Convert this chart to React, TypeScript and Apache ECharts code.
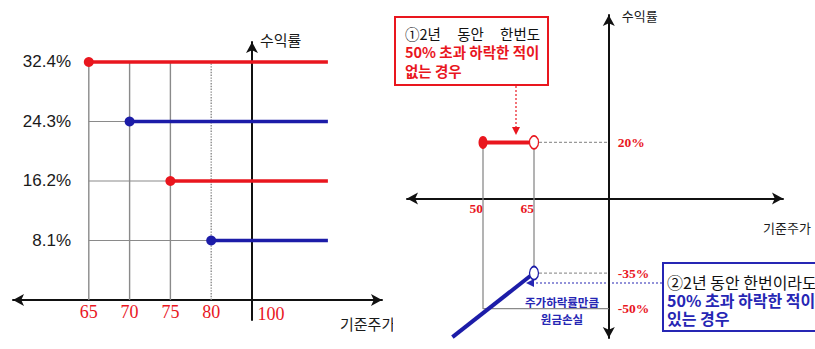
import React, { useEffect, useRef } from 'react';
import * as echarts from 'echarts';

// ---------------- Left chart data ----------------
const priceTicks = ['65', '70', '75', '80', '100'];
const periods = ['24개월', '18개월', '12개월', '6개월'];
const couponRates = [32.4, 24.3, 16.2, 8.1];
const barrierLevels = ['65', '70', '75', '80'];
const lineEndStep = 1.86; // coupon lines continue past the base price (in tick steps)

// ---------------- Right chart data ----------------
const gainRange = [50, 65];
const gainReturn = 20;
const lossLine = [
  [41, -62],
  [65, -35],
];
const rightPriceTicks = [50, 65];
const rightReturnTicks = [20, -35, -50];
const lossFloor = [50, -50];
const returnAxisPrice = 87; // schematic position of the return axis

const RED = '#e9161e';
const BLUE = '#2626b4';
const DARK_BLUE = '#1c1ca8';
const GRAY = '#8a8a8a';
const KR = "'Noto Sans CJK KR', sans-serif";
const SERIF = "'Liberation Serif', serif";
const SANS = "'Liberation Sans', sans-serif";

function tickPos(label: string) {
  return priceTicks.indexOf(label) - (priceTicks.length - 1);
}

function buildLeft(): any {
  const L = { axisX: 252, step: 40.8, zeroY: 300, perUnit: 7.346, left: 13, right: 382, top: 42, bottom: 320 };
  const xMin = -(L.axisX - L.left) / L.step;
  const xMax = (L.right - L.axisX) / L.step;
  const yMax = (L.zeroY - L.top) / L.perUnit;
  const yMin = -(L.bottom - L.zeroY) / L.perUnit;
  const topRate = Math.max(...couponRates);
  const minBarrier = tickPos(barrierLevels[0]);

  const series: any[] = [];
  barrierLevels.forEach((b) => {
    series.push({
      type: 'line',
      data: [
        [tickPos(b), 0],
        [tickPos(b), topRate],
      ],
      symbol: 'none',
      lineStyle: { color: GRAY, width: 1.4, type: b === '80' ? 'dotted' : 'solid' },
      z: 1,
      silent: true,
    });
  });
  couponRates.forEach((r, i) => {
    const bx = tickPos(barrierLevels[i]);
    if (bx > minBarrier) {
      series.push({
        type: 'line',
        data: [
          [minBarrier, r],
          [bx, r],
        ],
        symbol: 'none',
        lineStyle: { color: GRAY, width: 1.2 },
        z: 1,
        silent: true,
      });
    }
  });
  couponRates.forEach((r, i) => {
    const color = i % 2 === 0 ? RED : DARK_BLUE;
    series.push({
      type: 'line',
      data: [
        { value: [tickPos(barrierLevels[i]), r], symbol: 'circle', symbolSize: 10 },
        {
          value: [lineEndStep, r],
          symbol: 'none',
          label: {
            show: true,
            position: 'right',
            distance: 19,
            formatter: periods[i],
            color: '#1a1a1a',
            fontSize: 17,
            fontFamily: KR,
          },
        },
      ],
      lineStyle: { color, width: 3.5 },
      itemStyle: { color },
      z: 3,
    });
  });

  return {
    animation: false,
    backgroundColor: '#fff',
    grid: { left: L.left, top: L.top, width: L.right - L.left, height: L.bottom - L.top, containLabel: false },
    xAxis: {
      type: 'value',
      min: xMin,
      max: xMax,
      position: 'bottom',
      offset: L.zeroY - L.bottom,
      axisLine: {
        show: true,
        onZero: false,
        symbol: ['arrow', 'arrow'],
        symbolSize: [9, 11],
        lineStyle: { color: '#111', width: 2 },
      },
      axisTick: { show: false },
      splitLine: { show: false },
      axisLabel: {
        customValues: priceTicks.map(tickPos),
        formatter: (v: number) => {
          const idx = Math.round(v) + priceTicks.length - 1;
          const t = priceTicks[idx];
          return idx === priceTicks.length - 1 ? `{base|${t}}` : t;
        },
        color: RED,
        fontFamily: SERIF,
        fontSize: 18,
        margin: 3,
        rich: {
          base: { padding: [2, 0, 0, 38], color: RED, fontFamily: SERIF, fontSize: 18 },
        },
      },
    },
    yAxis: [
      {
        type: 'value',
        min: yMin,
        max: yMax,
        axisLine: {
          show: true,
          onZero: true,
          symbol: ['none', 'arrow'],
          symbolSize: [9, 11],
          lineStyle: { color: '#111', width: 2 },
        },
        axisTick: { show: false },
        axisLabel: { show: false },
        splitLine: { show: false },
        name: '수익률',
        nameLocation: 'end',
        nameGap: 3,
        nameTextStyle: {
          align: 'left',
          verticalAlign: 'middle',
          padding: [0, 0, 0, 8],
          fontSize: 15,
          color: '#1a1a1a',
          fontFamily: KR,
        },
      },
      {
        type: 'value',
        min: yMin,
        max: yMax,
        position: 'left',
        offset: L.left - 71,
        axisLine: { show: false, onZero: false },
        axisTick: { show: false },
        splitLine: { show: false },
        axisLabel: {
          customValues: couponRates,
          formatter: (v: number) => v.toFixed(1) + '%',
          margin: 0,
          color: '#1a1a1a',
          fontSize: 17,
          fontFamily: SANS,
        },
      },
    ],
    graphic: [
      {
        type: 'text',
        x: 340,
        y: 323,
        style: {
          text: '기준주가',
          fill: '#1a1a1a',
          fontSize: 15,
          fontFamily: KR,
          align: 'left',
          verticalAlign: 'middle',
          textAlign: 'left',
          textVerticalAlign: 'middle',
        },
      },
    ],
    series,
  };
}

function buildRight(): any {
  const R = { left: 14, right: 390, top: 15, bottom: 338, px50: 90, perPrice: 3.4, zeroY: 189.9, perUnit: 2.3757, xAxisY: 198.5 };
  const xMin = 50 - (R.px50 - R.left) / R.perPrice;
  const xMax = 50 + (R.right - R.px50) / R.perPrice;
  const yMax = (R.zeroY - R.top) / R.perUnit;
  const yMin = -(R.bottom - R.zeroY) / R.perUnit;
  const yAxisOffset = -(returnAxisPrice - xMin) * R.perPrice;
  const xAxisOffset = R.xAxisY - R.bottom;
  const hollow = (c: string) => ({ color: '#fff', borderColor: c, borderWidth: 1.5 });
  const [g0, g1] = gainRange;
  const lossEnd = lossLine[lossLine.length - 1];

  const series: any[] = [
    {
      type: 'line',
      data: [
        [lossFloor[0], gainReturn],
        [lossFloor[0], lossFloor[1]],
        [returnAxisPrice, lossFloor[1]],
      ],
      symbol: 'none',
      lineStyle: { color: GRAY, width: 1.3 },
      z: 1,
    },
    {
      type: 'line',
      data: [
        [g1, gainReturn],
        [lossEnd[0], lossEnd[1]],
      ],
      symbol: 'none',
      lineStyle: { color: GRAY, width: 1.3 },
      z: 1,
    },
    {
      type: 'line',
      data: [
        [g1, gainReturn],
        [returnAxisPrice, gainReturn],
      ],
      symbol: 'none',
      lineStyle: { color: '#999', width: 1.2, type: [3, 2] },
      z: 1,
    },
    {
      type: 'line',
      data: [
        [lossEnd[0], lossEnd[1]],
        [returnAxisPrice, lossEnd[1]],
      ],
      symbol: 'none',
      lineStyle: { color: '#999', width: 1.2, type: [3, 2] },
      z: 1,
    },
    {
      type: 'line',
      data: [
        { value: [g0, gainReturn], symbol: 'circle', symbolSize: [9, 13], itemStyle: { color: RED } },
        { value: [g1, gainReturn], symbol: 'circle', symbolSize: [9, 13], itemStyle: hollow(RED) },
      ],
      lineStyle: { color: RED, width: 4 },
      z: 3,
    },
    {
      type: 'line',
      data: lossLine.map((p, i) =>
        i === lossLine.length - 1
          ? { value: p, symbol: 'circle', symbolSize: [9, 13], itemStyle: hollow(DARK_BLUE) }
          : { value: p, symbol: 'none' }
      ),
      lineStyle: { color: DARK_BLUE, width: 4 },
      z: 3,
    },
  ];

  const box1Text = '{k|①2년     동안     한번도}\n{r|50% 초과 하락한 적이}\n{r|없는 경우}';
  const box2Text = '{k|②2년 동안 한번이라도}\n{b|50% 초과 하락한 적이}\n{b|있는 경우}';

  return {
    animation: false,
    backgroundColor: '#fff',
    grid: { left: R.left, top: R.top, width: R.right - R.left, height: R.bottom - R.top, containLabel: false },
    xAxis: {
      type: 'value',
      min: xMin,
      max: xMax,
      position: 'bottom',
      offset: xAxisOffset,
      axisLine: {
        show: true,
        onZero: false,
        symbol: ['arrow', 'arrow'],
        symbolSize: [9, 11],
        lineStyle: { color: '#111', width: 2 },
      },
      axisTick: { show: false },
      splitLine: { show: false },
      axisLabel: {
        customValues: rightPriceTicks,
        formatter: (v: number) => String(v),
        align: 'right',
        margin: 3,
        color: RED,
        fontFamily: SERIF,
        fontWeight: 'bold',
        fontSize: 13.5,
      },
    },
    yAxis: {
      type: 'value',
      min: yMin,
      max: yMax,
      position: 'left',
      offset: yAxisOffset,
      axisLine: {
        show: true,
        onZero: false,
        symbol: ['arrow', 'arrow'],
        symbolSize: [9, 11],
        lineStyle: { color: '#111', width: 2 },
      },
      axisTick: { show: false },
      splitLine: { show: false },
      axisLabel: {
        inside: true,
        customValues: rightReturnTicks,
        formatter: (v: number) => v + '%',
        margin: 9,
        color: RED,
        fontFamily: SERIF,
        fontWeight: 'bold',
        fontSize: 13.5,
      },
      name: '수익률',
      nameLocation: 'end',
      nameGap: 0,
      nameTextStyle: {
        align: 'left',
        verticalAlign: 'middle',
        padding: [0, 0, 0, 13],
        fontSize: 13,
        color: '#1a1a1a',
        fontFamily: KR,
      },
    },
    graphic: [
      {
        type: 'text',
        x: 370,
        y: 227,
        style: {
          text: '기준주가',
          fill: '#1a1a1a',
          fontSize: 13,
          fontFamily: KR,
          align: 'left',
          verticalAlign: 'middle',
          textAlign: 'left',
          textVerticalAlign: 'middle',
        },
      },
      {
        type: 'rect',
        shape: { x: 2, y: 17, width: 153, height: 68 },
        style: { fill: '#fff', stroke: RED, lineWidth: 2 },
      },
      {
        type: 'text',
        x: 12,
        y: 24,
        style: {
          text: box1Text,
          rich: {
            k: { fontSize: 14.5, lineHeight: 18.5, fontFamily: KR, fill: '#111', color: '#111' },
            r: { fontSize: 14.5, lineHeight: 18.5, fontFamily: KR, fill: RED, color: RED, fontWeight: 'bold' },
          },
        },
      },
      {
        type: 'line',
        shape: { x1: 123, y1: 86, x2: 123, y2: 128 },
        style: { stroke: RED, lineWidth: 1.2, lineDash: [2, 2] },
      },
      {
        type: 'polygon',
        shape: { points: [[119, 127], [127, 127], [123, 135]] },
        style: { fill: RED },
      },
      {
        type: 'rect',
        shape: { x: 270, y: 263, width: 170, height: 68 },
        style: { fill: '#fff', stroke: BLUE, lineWidth: 2 },
      },
      {
        type: 'text',
        x: 274,
        y: 273,
        style: {
          text: box2Text,
          rich: {
            k: { fontSize: 16, lineHeight: 18, fontFamily: KR, fill: '#111', color: '#111' },
            b: { fontSize: 16, lineHeight: 18, fontFamily: KR, fill: BLUE, color: BLUE, fontWeight: 'bold' },
          },
        },
      },
      {
        type: 'line',
        shape: { x1: 269, y1: 283, x2: 140, y2: 283 },
        style: { stroke: BLUE, lineWidth: 1.2, lineDash: [2, 2] },
      },
      {
        type: 'polygon',
        shape: { points: [[141, 279], [141, 287], [133, 283]] },
        style: { fill: BLUE },
      },
      {
        type: 'text',
        x: 169,
        y: 302,
        style: {
          text: '주가하락률만큼',
          fill: BLUE,
          fontSize: 11.5,
          fontWeight: 'bold',
          fontFamily: KR,
          align: 'center',
          verticalAlign: 'middle',
          textAlign: 'center',
          textVerticalAlign: 'middle',
        },
      },
      {
        type: 'text',
        x: 169,
        y: 319,
        style: {
          text: '원금손실',
          fill: BLUE,
          fontSize: 11.5,
          fontWeight: 'bold',
          fontFamily: KR,
          align: 'center',
          verticalAlign: 'middle',
          textAlign: 'center',
          textVerticalAlign: 'middle',
        },
      },
    ],
    series,
  };
}

export default function App() {
  const leftRef = useRef<HTMLDivElement>(null);
  const rightRef = useRef<HTMLDivElement>(null);
  useEffect(() => {
    const l = echarts.init(leftRef.current as HTMLDivElement, null, { renderer: 'svg' });
    const r = echarts.init(rightRef.current as HTMLDivElement, null, { renderer: 'svg' });
    l.setOption(buildLeft());
    r.setOption(buildRight());
    return () => {
      l.dispose();
      r.dispose();
    };
  }, []);
  return (
    <div style={{ position: 'absolute', left: 0, top: 0, width: 815, height: 349, background: '#fff', overflow: 'hidden' }}>
      <div style={{ position: 'absolute', left: 0, top: 0, width: 393, height: 349, overflow: 'hidden' }}>
        <div ref={leftRef} style={{ width: 393, height: 349 }} />
      </div>
      <div style={{ position: 'absolute', left: 393, top: 0, width: 422, height: 349, overflow: 'hidden' }}>
        <div ref={rightRef} style={{ width: 422, height: 349 }} />
      </div>
    </div>
  );
}
